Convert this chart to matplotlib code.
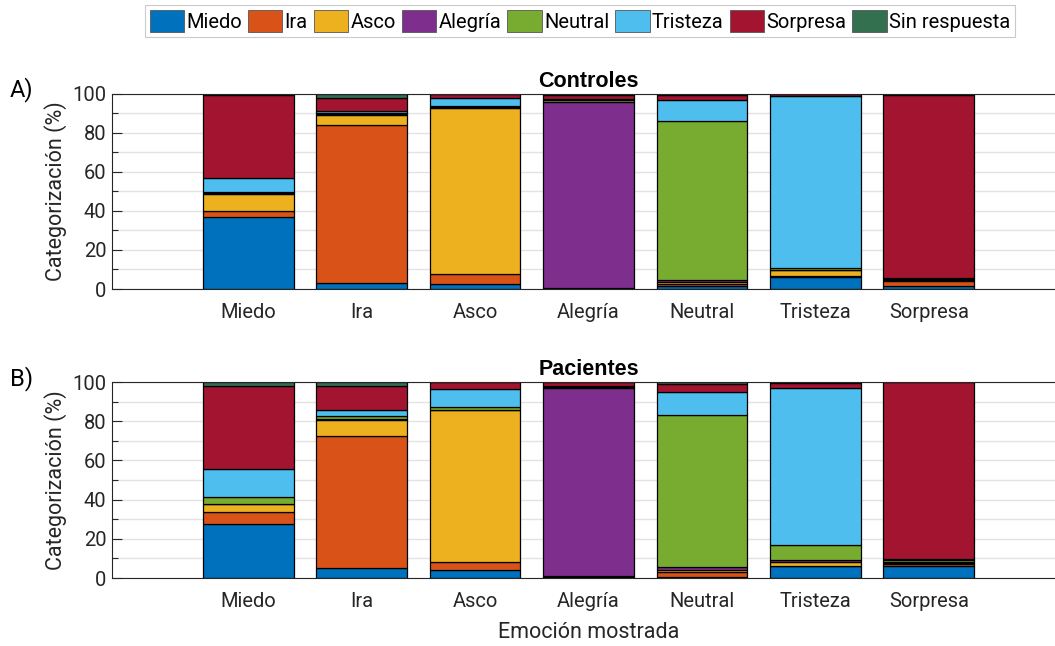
import numpy as np
import matplotlib.pyplot as plt
from matplotlib.patches import Patch
from matplotlib.ticker import MultipleLocator

plt.rcParams['font.family'] = ['Roboto', 'DejaVu Sans']

# Shown emotions (x axis) and response categories (stack order)
shown = ['Miedo', 'Ira', 'Asco', 'Alegría', 'Neutral', 'Tristeza', 'Sorpresa']
responses = ['Miedo', 'Ira', 'Asco', 'Alegría', 'Neutral', 'Tristeza', 'Sorpresa', 'Sin respuesta']
colors = ['#0072BD', '#D95319', '#EDB120', '#7E2F8E', '#77AC30', '#4DBEEE', '#A2142F', '#33704F']

# Categorisation percentages; rows = shown emotion, columns = response
controles = np.array([
    [36.7, 3.0, 9.0, 0.3, 0.4, 7.6, 42.3, 0.7],
    [3.1, 80.8, 5.1, 0.4, 0.6, 0.8, 7.1, 2.1],
    [2.4, 5.3, 84.7, 0.5, 0.5, 4.5, 1.7, 0.4],
    [0.2, 0.2, 0.2, 94.9, 1.3, 0.6, 2.0, 0.6],
    [1.4, 1.4, 1.0, 0.8, 81.3, 10.6, 2.7, 0.8],
    [6.1, 0.3, 3.2, 0.3, 0.8, 88.1, 0.7, 0.5],
    [1.7, 2.4, 0.6, 0.3, 0.5, 0.3, 93.4, 0.8],
])
pacientes = np.array([
    [27.4, 6.4, 4.1, 0.0, 3.6, 14.1, 42.4, 2.0],
    [5.3, 67.0, 8.1, 0.8, 1.6, 2.7, 12.5, 2.0],
    [3.9, 4.3, 77.3, 0.4, 1.2, 9.3, 3.6, 0.0],
    [0.3, 0.3, 0.3, 96.0, 0.6, 0.5, 2.0, 0.0],
    [0.5, 2.5, 1.0, 1.4, 77.6, 11.7, 4.3, 1.0],
    [6.0, 0.3, 1.7, 1.0, 7.7, 80.1, 2.5, 0.7],
    [6.0, 1.0, 0.7, 0.6, 1.0, 0.3, 90.4, 0.0],
])

W, H = 1055, 646
fig = plt.figure(figsize=(W / 100, H / 100), dpi=100)

def make_axes(top_px, bottom_px):
    left, right = 112, 1065
    return fig.add_axes([left / W, 1 - bottom_px / H, (right - left) / W, (bottom_px - top_px) / H])

axA = make_axes(93.5, 289)
axB = make_axes(382, 578)

x = np.arange(1, len(shown) + 1)
ink = '#262626'

for ax, data, title, tag in [(axA, controles, 'Controles', 'A)'), (axB, pacientes, 'Pacientes', 'B)')]:
    bottom = np.zeros(len(shown))
    for j, (resp, col) in enumerate(zip(responses, colors)):
        ax.bar(x, data[:, j], width=0.8, bottom=bottom, color=col,
               edgecolor='black', linewidth=0.9, zorder=2)
        bottom += data[:, j]
    ax.set_xlim(-0.2, 8.2)
    ax.set_ylim(0, 100)
    ax.set_xticks(x)
    ax.set_xticklabels(shown, fontsize=14.5, color=ink)
    ax.yaxis.set_major_locator(MultipleLocator(20))
    ax.yaxis.set_minor_locator(MultipleLocator(10))
    ax.tick_params(axis='y', labelsize=14.5, labelcolor=ink, direction='in',
                   length=7, width=0.8, color=ink, which='major', pad=4)
    ax.tick_params(axis='y', which='minor', direction='in', length=4, width=0.8, color=ink)
    ax.tick_params(axis='x', direction='in', length=7, width=0.8, color=ink,
                   top=True, pad=10)
    ax.grid(axis='y', which='both', color='#e3e3e3', linewidth=1.0, zorder=0)
    ax.set_axisbelow(True)
    for s in ['left', 'bottom', 'top']:
        ax.spines[s].set_color(ink)
        ax.spines[s].set_linewidth(0.8)
    ax.spines['right'].set_visible(False)
    ax.set_title(title, fontsize=15.5, fontweight='bold', pad=5,
                 family=['Liberation Sans', 'DejaVu Sans'])
    ax.set_ylabel('Categorización (%)', fontsize=15.5, color=ink, labelpad=4)
    ax.text(-0.107, 0.955, tag, transform=ax.transAxes, fontsize=17, ha='left', va='bottom')

axB.set_xlabel('Emoción mostrada', fontsize=15.5, color=ink, labelpad=8)

handles = [Patch(facecolor=c, edgecolor='#555555', linewidth=0.6) for c in colors]
leg = fig.legend(handles, responses, loc='center', bbox_to_anchor=(580 / W, 1 - 21 / H),
                 ncol=8, fontsize=14.5, frameon=True, fancybox=False,
                 handlelength=1.7, handleheight=1.3, handletextpad=0.12,
                 columnspacing=0.3, borderpad=0.25, borderaxespad=0)
leg.get_frame().set_edgecolor('#bdbdbd')
leg.get_frame().set_linewidth(0.8)

fig.savefig('out.png', dpi=100)
